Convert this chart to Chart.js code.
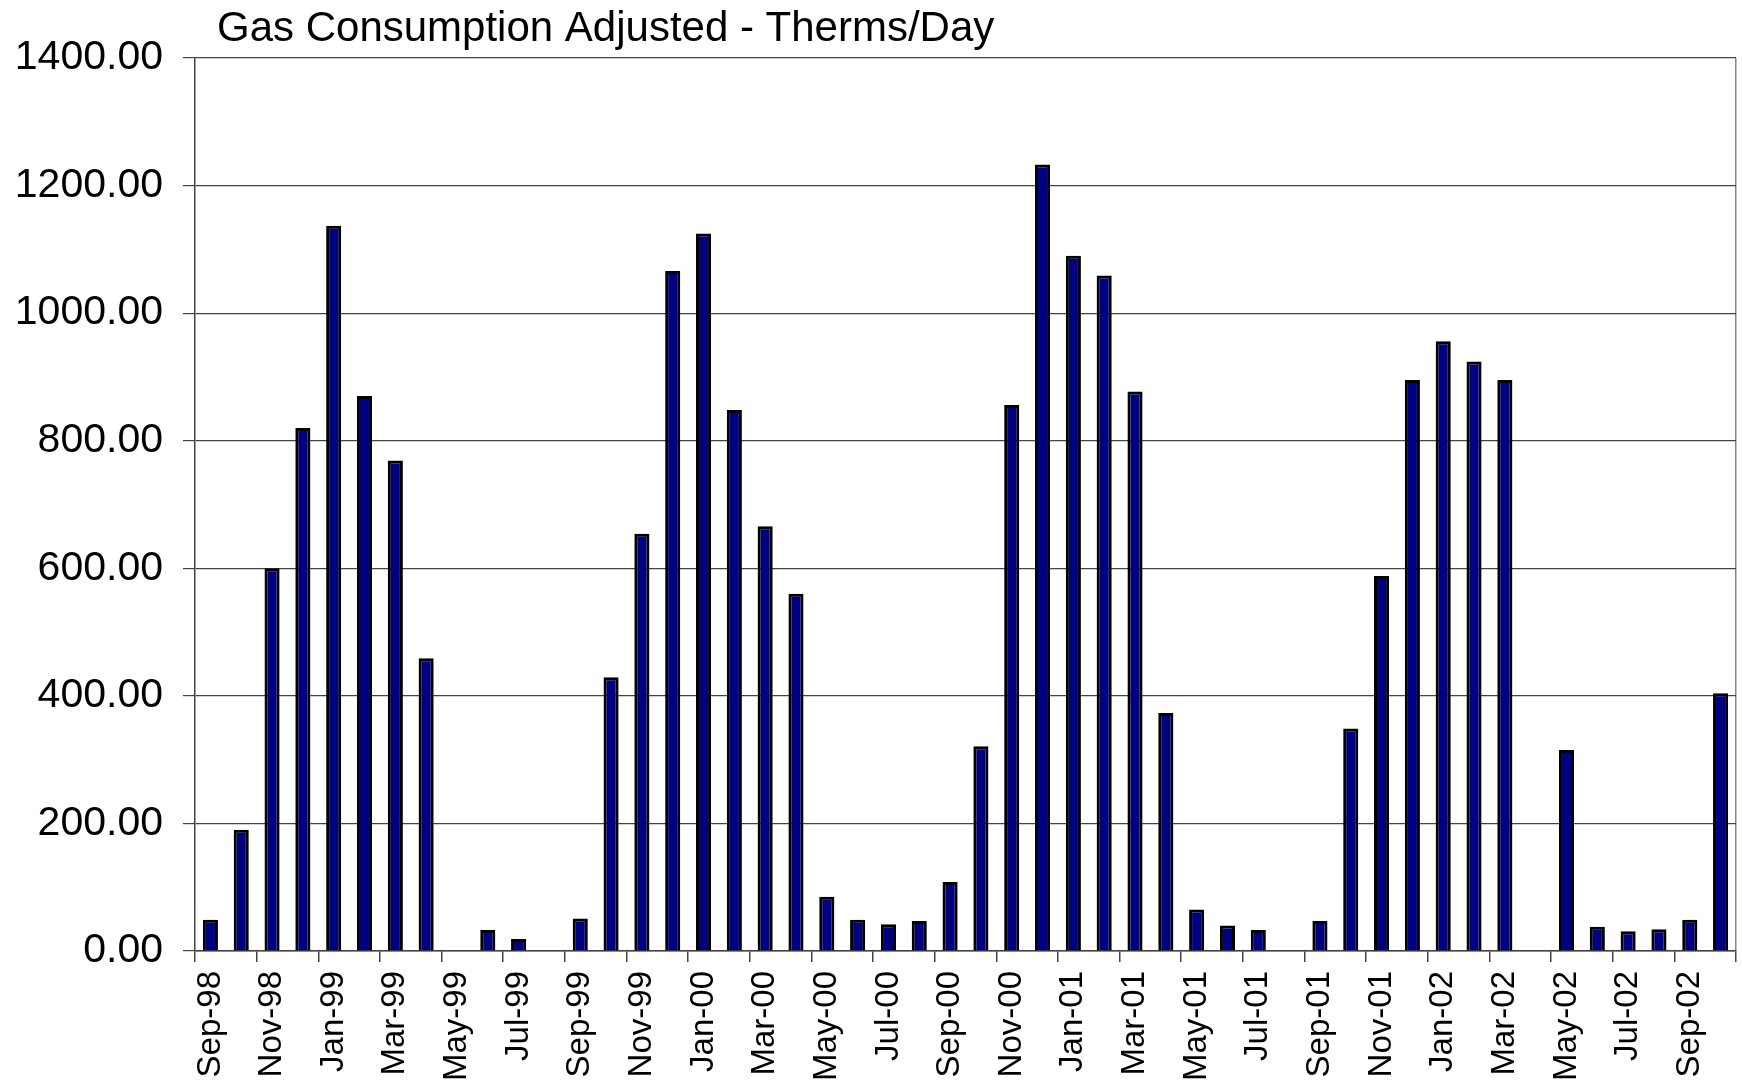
<!DOCTYPE html>
<html><head><meta charset="utf-8">
<script src="https://cdn.jsdelivr.net/npm/chart.js@4/dist/chart.umd.min.js"></script>
<style>html,body{margin:0;padding:0;background:#fff;} canvas{display:block;}</style>
</head><body>
<canvas id="c" width="1742" height="1080"></canvas>
<script>
const TITLE = 'Gas Consumption Adjusted - Therms/Day';
const months = ['Sep-98','Oct-98','Nov-98','Dec-98','Jan-99','Feb-99','Mar-99','Apr-99','May-99','Jun-99','Jul-99','Aug-99',
  'Sep-99','Oct-99','Nov-99','Dec-99','Jan-00','Feb-00','Mar-00','Apr-00','May-00','Jun-00','Jul-00','Aug-00',
  'Sep-00','Oct-00','Nov-00','Dec-00','Jan-01','Feb-01','Mar-01','Apr-01','May-01','Jun-01','Jul-01','Aug-01',
  'Sep-01','Oct-01','Nov-01','Dec-01','Jan-02','Feb-02','Mar-02','Apr-02','May-02','Jun-02','Jul-02','Aug-02',
  'Sep-02','Oct-02'];
const therms = [49,190,600,820,1137,870,769,459,0,33,19,0,
  51,429,654,1066,1125,848,666,560,85,49,42,47,
  108,321,856,1233,1090,1059,877,373,65,40,33,0,
  47,349,588,895,956,924,895,0,315,38,31,34,
  49,404];
const yMin = 0, yMax = 1400, yStep = 200;

Chart.defaults.font.family = '"Liberation Sans", Arial, sans-serif';
Chart.defaults.color = '#000';

const titlePlugin = {
  id: 'leftTitle',
  afterDraw(chart) {
    const ctx = chart.ctx;
    ctx.save();
    ctx.font = '42px "Liberation Sans", Arial, sans-serif';
    ctx.fillStyle = '#000';
    ctx.textAlign = 'left';
    ctx.textBaseline = 'alphabetic';
    ctx.fillText(TITLE, chart.chartArea.left + 22, 41);
    ctx.restore();
  }
};

new Chart(document.getElementById('c'), {
  type: 'bar',
  data: {
    labels: months,
    datasets: [{
      data: therms,
      backgroundColor: '#000080',
      borderColor: '#000',
      borderWidth: 3,
      barPercentage: 0.49,
      categoryPercentage: 1.0
    }]
  },
  options: {
    responsive: false,
    animation: false,
    layout: { padding: { top: 58, right: 6, left: 0, bottom: 0 } },
    plugins: { legend: { display: false }, title: { display: false }, tooltip: { enabled: false } },
    scales: {
      x: {
        offset: true,
        grid: {
          offset: true,
          drawOnChartArea: true,
          color: (ctx) => ctx.index === undefined ? '#888' : 'rgba(0,0,0,0)',
          tickColor: (ctx) => (ctx.index === undefined || ctx.index % 2 === 0) ? '#444' : 'rgba(0,0,0,0)',
          tickLength: 11,
          lineWidth: 1.5
        },
        border: { display: true, color: '#444', width: 1.5 },
        ticks: {
          autoSkip: false,
          minRotation: 90,
          maxRotation: 90,
          padding: 9,
          font: { size: 33 },
          color: '#000',
          callback: function(v, i) { return i % 2 === 0 ? this.getLabelForValue(v) : ''; }
        },
        afterFit: (s) => { s.height = 129; s.paddingLeft = 0; s.paddingRight = 0; }
      },
      y: {
        min: yMin, max: yMax,
        grid: { color: '#444', lineWidth: 1.2, tickLength: 12, tickColor: '#444' },
        border: { display: true, color: '#444', width: 1.5 },
        ticks: {
          stepSize: yStep,
          padding: 20,
          font: { size: 41 },
          color: '#000',
          callback: (v) => Number(v).toFixed(2)
        },
        afterFit: (s) => { s.width = 195; }
      }
    }
  },
  plugins: [titlePlugin]
});
</script>
</body></html>
